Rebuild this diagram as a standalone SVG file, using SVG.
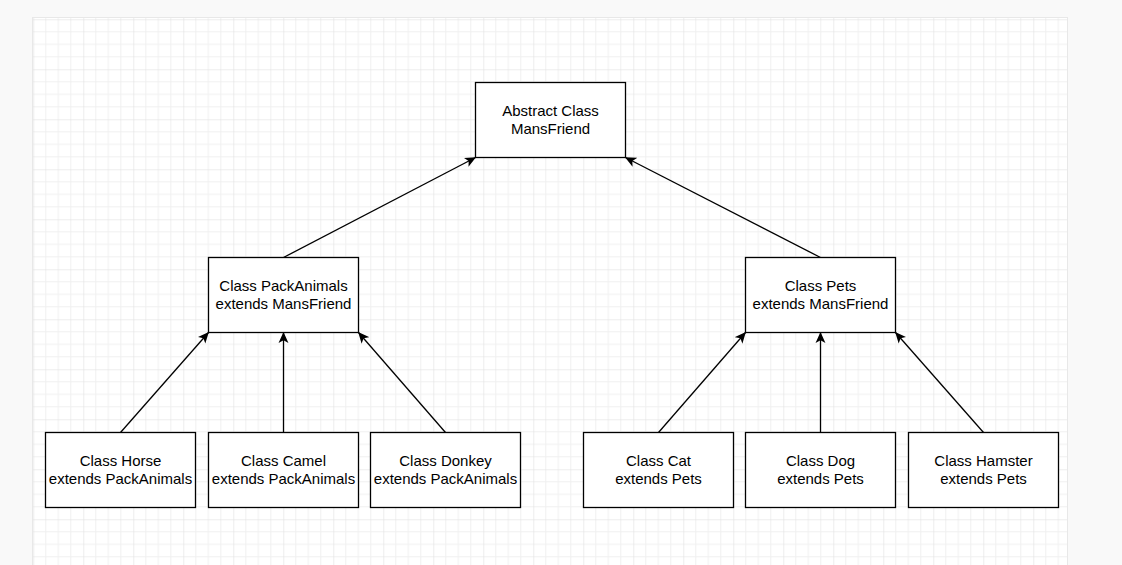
<svg xmlns="http://www.w3.org/2000/svg" width="1122" height="565" viewBox="0 0 1122 565">
  <defs>
    <pattern id="grid" patternUnits="userSpaceOnUse" x="33.3" y="19.3" width="50" height="50">
      <g stroke="#f0f0f0" stroke-width="1">
        <line x1="12.5" y1="0" x2="12.5" y2="50"/>
        <line x1="25" y1="0" x2="25" y2="50"/>
        <line x1="37.5" y1="0" x2="37.5" y2="50"/>
        <line x1="0" y1="12.5" x2="50" y2="12.5"/>
        <line x1="0" y1="25" x2="50" y2="25"/>
        <line x1="0" y1="37.5" x2="50" y2="37.5"/>
      </g>
      <g stroke="#dcdcdc" stroke-width="1">
        <line x1="0" y1="0" x2="0" y2="50"/>
        <line x1="0" y1="0" x2="50" y2="0"/>
      </g>
    </pattern>
    <marker id="arrow" viewBox="0 0 10 10" refX="9.5" refY="5" markerWidth="11" markerHeight="11" markerUnits="userSpaceOnUse" orient="auto">
      <path d="M0,0.5 L10,5 L0,9.5 L2.5,5 Z" fill="#000"/>
    </marker>
  </defs>
  <style>
    .node rect { fill: #ffffff; stroke: #000000; stroke-width: 1.3; }
    .node text { font-family: "Liberation Sans", Arial, Helvetica, sans-serif; font-size: 15px; fill: #000; text-anchor: middle; }
    .edge { stroke: #000; stroke-width: 1.3; fill: none; marker-end: url(#arrow); }
  </style>
  <rect x="0" y="0" width="1122" height="565" fill="#f9f9f9"/>
  <rect x="32" y="17" width="1036" height="560" fill="#e8e8e8"/>
  <rect x="33" y="18" width="1034" height="560" fill="#ffffff"/>
  <rect x="33" y="18" width="1034" height="560" fill="url(#grid)"/>

  <g id="connectors">
    <line class="edge" x1="283.5" y1="257.5" x2="475.5" y2="157.5"/>
    <line class="edge" x1="820.5" y1="257.5" x2="625.5" y2="157.5"/>
    <line class="edge" x1="120.5" y1="432.5" x2="208.5" y2="332.5"/>
    <line class="edge" x1="283.5" y1="432.5" x2="283.5" y2="332.5"/>
    <line class="edge" x1="445.5" y1="432.5" x2="358.5" y2="332.5"/>
    <line class="edge" x1="658.5" y1="432.5" x2="745.5" y2="332.5"/>
    <line class="edge" x1="820.5" y1="432.5" x2="820.5" y2="332.5"/>
    <line class="edge" x1="983.5" y1="432.5" x2="895.5" y2="332.5"/>
  </g>

  <g id="mansfriend" class="node">
    <rect x="475.5" y="82.5" width="150" height="75"/>
    <text x="550.5" y="115.5">Abstract Class</text>
    <text x="550.5" y="133.5">MansFriend</text>
  </g>
  <g id="packanimals" class="node">
    <rect x="208.5" y="257.5" width="150" height="75"/>
    <text x="283.5" y="290.5">Class PackAnimals</text>
    <text x="283.5" y="308.5">extends MansFriend</text>
  </g>
  <g id="pets" class="node">
    <rect x="745.5" y="257.5" width="150" height="75"/>
    <text x="820.5" y="290.5">Class Pets</text>
    <text x="820.5" y="308.5">extends MansFriend</text>
  </g>
  <g id="horse" class="node">
    <rect x="45.5" y="432.5" width="150" height="75"/>
    <text x="120.5" y="465.5">Class Horse</text>
    <text x="120.5" y="483.5">extends PackAnimals</text>
  </g>
  <g id="camel" class="node">
    <rect x="208.5" y="432.5" width="150" height="75"/>
    <text x="283.5" y="465.5">Class Camel</text>
    <text x="283.5" y="483.5">extends PackAnimals</text>
  </g>
  <g id="donkey" class="node">
    <rect x="370.5" y="432.5" width="150" height="75"/>
    <text x="445.5" y="465.5">Class Donkey</text>
    <text x="445.5" y="483.5">extends PackAnimals</text>
  </g>
  <g id="cat" class="node">
    <rect x="583.5" y="432.5" width="150" height="75"/>
    <text x="658.5" y="465.5">Class Cat</text>
    <text x="658.5" y="483.5">extends Pets</text>
  </g>
  <g id="dog" class="node">
    <rect x="745.5" y="432.5" width="150" height="75"/>
    <text x="820.5" y="465.5">Class Dog</text>
    <text x="820.5" y="483.5">extends Pets</text>
  </g>
  <g id="hamster" class="node">
    <rect x="908.5" y="432.5" width="150" height="75"/>
    <text x="983.5" y="465.5">Class Hamster</text>
    <text x="983.5" y="483.5">extends Pets</text>
  </g>
</svg>
